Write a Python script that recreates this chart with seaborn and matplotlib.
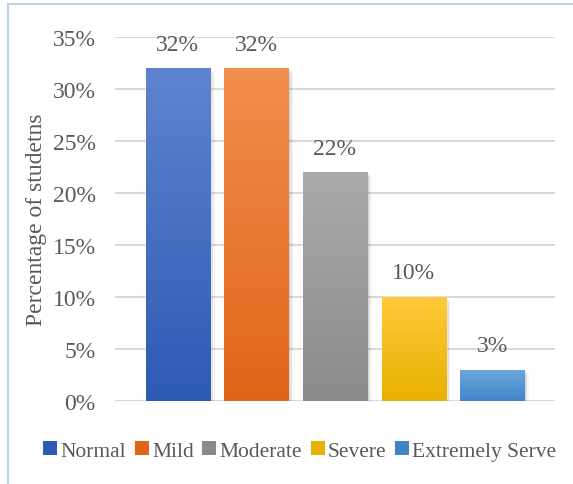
import numpy as np
import pandas as pd
import matplotlib
matplotlib.use("Agg")
import matplotlib.pyplot as plt
import seaborn as sns
from matplotlib.colors import LinearSegmentedColormap
from matplotlib.lines import Line2D
from matplotlib.patches import Rectangle

# data
levels = ["Normal", "Mild", "Moderate", "Severe", "Extremely Serve"]
percent = [32, 32, 22, 10, 3]
# (top colour, bottom colour) of each bar's gradient
top_colors = ["#5F84CF", "#F28E4E", "#ABABAB", "#FFC93A", "#6DA8DE"]
bottom_colors = ["#2D5AB4", "#DF6519", "#8A8A8A", "#E8B100", "#3E85C8"]

df = pd.DataFrame({"level": levels, "share": np.array(percent) / 100})

sns.set_style("white")
plt.rcParams["font.family"] = ["Liberation Serif", "DejaVu Serif"]
text_col = "#595959"

fig = plt.figure(figsize=(5.73, 4.85), dpi=100)
ax = fig.add_axes([115 / 573, 1 - 402 / 485, 440 / 573, 364 / 485])

sns.barplot(data=df, x="level", y="share", hue="level", palette=bottom_colors,
            width=0.815, legend=False, ax=ax, zorder=3)

# gradient fill + soft shadow on each bar
for patch, c_top, c_bot, v in zip(ax.patches, top_colors, bottom_colors, percent):
    x0, y0 = patch.get_x(), patch.get_y()
    w, h = patch.get_width(), patch.get_height()
    for k, a in enumerate([0.10, 0.07, 0.04]):
        sh = Rectangle((x0 + 0.02 * (k + 1), y0 - 0.0015 * (k + 1)), w, h,
                       facecolor="black", alpha=a, edgecolor="none", zorder=2)
        ax.add_patch(sh)
    cmap = LinearSegmentedColormap.from_list("g", [c_bot, c_top])
    grad = np.linspace(0, 1, 256).reshape(-1, 1)
    im = ax.imshow(grad, cmap=cmap, origin="lower", aspect="auto",
                   extent=[x0, x0 + w, y0, y0 + h], zorder=4)
    im.set_clip_path(patch)
    ax.text(x0 + w / 2, h + 0.013, f"{v}%", ha="center", va="bottom",
            fontsize=17, color=text_col, zorder=5)

ax.set_xlim(-0.8, 4.8)
ax.set_ylim(0, 0.35)
ax.set_yticks(np.arange(0, 0.351, 0.05))
ax.set_yticklabels([f"{int(round(t * 100))}%" for t in np.arange(0, 0.351, 0.05)])
ax.set_xticks([])
ax.set_xlabel("")
ax.set_ylabel("Percentage of studetns", fontsize=17, color=text_col, labelpad=4)
ax.tick_params(axis="y", length=0, pad=14, labelsize=17, labelcolor=text_col)
ax.grid(axis="y", color="#D9D9D9", linewidth=1.5, zorder=0)
ax.set_axisbelow(True)
for s in ax.spines.values():
    s.set_visible(False)

handles = [Rectangle((0, 0), 1, 1, facecolor=c, edgecolor="none") for c in bottom_colors]
fig.legend(handles, levels, loc="center", bbox_to_anchor=(300 / 573, 1 - 452 / 485),
           ncol=5, frameon=False, fontsize=15.5, handlelength=0.65, handleheight=0.65,
           handletextpad=0.15, columnspacing=0.4, labelcolor=text_col)

# thin frame edges on the left and top
fig.add_artist(Line2D([8 / 573, 8 / 573], [0, 1 - 5 / 485], color="#BDD0E8", linewidth=1.5))
fig.add_artist(Line2D([8 / 573, 1], [1 - 5 / 485, 1 - 5 / 485], color="#BDD0E8", linewidth=1.5))

fig.savefig("out.png", dpi=100)
